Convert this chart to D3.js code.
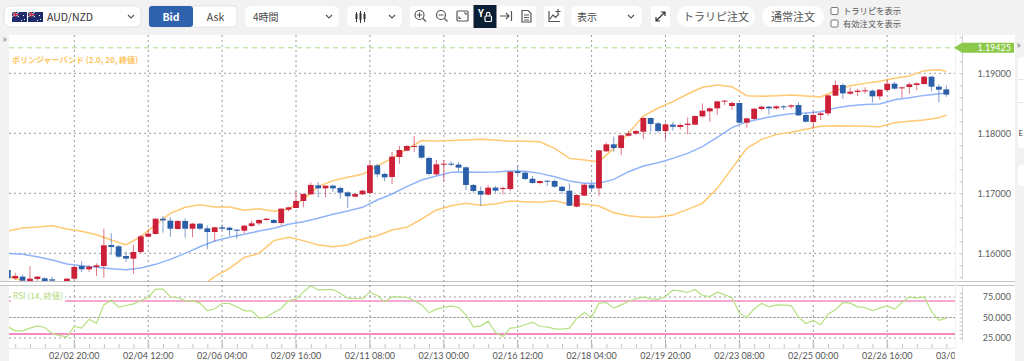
<!DOCTYPE html>
<html>
<head>
<meta charset="utf-8">
<script src="https://cdn.jsdelivr.net/npm/d3@7"></script>
<style>
    html, body { margin: 0; padding: 0; background: #f2f2f2; overflow: hidden; }
    text { font-family: Lato, "Noto Sans CJK JP", sans-serif; }
    .jp { font-family: "Noto Sans CJK JP", sans-serif; }
</style>
</head>
<body>
<div id="chart"></div>
<script>
"use strict"

// prices, one entry per 4 hour bar
let opens = [
    1.15722,1.15583,1.15611,1.15527,1.15572,1.15583,1.15566,1.15527,1.15527,1.15577,
    1.15788,1.15733,1.15772,1.15788,1.16138,1.16116,1.15955,1.15911,1.16022,1.16277,
    1.16322,1.16577,1.16544,1.16405,1.16538,1.16410,1.16494,1.16416,1.16355,1.16433,
    1.16427,1.16394,1.16377,1.16455,1.16499,1.16555,1.16555,1.16505,1.16727,1.16755,
    1.16872,1.16983,1.17133,1.17083,1.17127,1.17089,1.17016,1.16944,1.16983,1.17005,
    1.17466,1.17322,1.17272,1.17605,1.17711,1.17778,1.17794,1.17589,1.17316,1.17483,
    1.17494,1.17478,1.17433,1.17139,1.17039,1.16978,1.17094,1.17078,1.17071,1.17366,
    1.17344,1.17243,1.17171,1.17210,1.17205,1.17110,1.17043,1.16777,1.16960,1.17143,
    1.17082,1.17699,1.17816,1.17755,1.17960,1.17994,1.18027,1.18255,1.18166,1.18038,
    1.18144,1.18105,1.18138,1.18144,1.18282,1.18366,1.18416,1.18532,1.18455,1.18505,
    1.18177,1.18238,1.18405,1.18444,1.18416,1.18449,1.18444,1.18471,1.18305,1.18188,
    1.18305,1.18332,1.18627,1.18805,1.18660,1.18688,1.18699,1.18710,1.18616,1.18721,
    1.18827,1.18749,1.18771,1.18805,1.18821,1.18944,1.18777,1.18732
];
let highs = [
    1.15733,1.15677,1.15644,1.15788,1.15622,1.15599,1.15611,1.15527,1.15588,1.15788,
    1.15866,1.15799,1.15833,1.16410,1.16333,1.16138,1.16027,1.16138,1.16305,1.16399,
    1.16577,1.16622,1.16599,1.16555,1.16583,1.16505,1.16505,1.16466,1.16444,1.16477,
    1.16444,1.16399,1.16472,1.16544,1.16566,1.16583,1.16572,1.16750,1.16777,1.17044,
    1.17000,1.17178,1.17189,1.17133,1.17144,1.17111,1.17033,1.17000,1.17061,1.17528,
    1.17489,1.17344,1.17689,1.17789,1.17800,1.17955,1.17811,1.17611,1.17555,1.17555,
    1.17533,1.17522,1.17444,1.17155,1.17116,1.17139,1.17122,1.17111,1.17360,1.17466,
    1.17366,1.17288,1.17210,1.17216,1.17232,1.17121,1.17166,1.16988,1.17166,1.17166,
    1.17721,1.17844,1.17944,1.17977,1.18044,1.18055,1.18266,1.18266,1.18188,1.18177,
    1.18188,1.18166,1.18266,1.18299,1.18499,1.18432,1.18544,1.18555,1.18532,1.18510,
    1.18260,1.18421,1.18455,1.18455,1.18466,1.18471,1.18482,1.18516,1.18344,1.18355,
    1.18355,1.18644,1.18877,1.18832,1.18766,1.18744,1.18766,1.18732,1.18738,1.18899,
    1.18855,1.18777,1.18849,1.18849,1.18955,1.18949,1.18816,1.18799
];
let lows = [
    1.15555,1.15555,1.15522,1.15499,1.15544,1.15511,1.15511,1.15400,1.15499,1.15555,
    1.15688,1.15694,1.15622,1.15594,1.15972,1.15922,1.15855,1.15655,1.15999,1.16266,
    1.16311,1.16344,1.16277,1.16399,1.16260,1.16266,1.16388,1.16066,1.16194,1.16377,
    1.16288,1.16244,1.16333,1.16438,1.16472,1.16544,1.16500,1.16466,1.16700,1.16755,
    1.16766,1.16972,1.16933,1.16933,1.17022,1.16911,1.16755,1.16933,1.16972,1.16989,
    1.17266,1.17200,1.17155,1.17494,1.17700,1.17689,1.17578,1.17300,1.17300,1.17194,
    1.17455,1.17361,1.17055,1.17011,1.16794,1.16966,1.17011,1.16978,1.17038,1.17305,
    1.17221,1.17160,1.17149,1.17121,1.17093,1.16988,1.16788,1.16766,1.16955,1.17038,
    1.16955,1.17693,1.17693,1.17632,1.17944,1.17971,1.17905,1.18016,1.18010,1.17894,
    1.18044,1.18060,1.17982,1.18138,1.18266,1.18194,1.18310,1.18471,1.18388,1.18166,
    1.18094,1.18227,1.18382,1.18310,1.18394,1.18388,1.18410,1.18288,1.18182,1.18082,
    1.18221,1.18293,1.18621,1.18577,1.18644,1.18621,1.18660,1.18510,1.18560,1.18699,
    1.18732,1.18588,1.18660,1.18721,1.18816,1.18699,1.18516,1.18610
];
let closes = [
    1.15583,1.15622,1.15544,1.15577,1.15611,1.15527,1.15544,1.15450,1.15577,1.15772,
    1.15733,1.15777,1.15799,1.16133,1.16105,1.15944,1.15911,1.16022,1.16283,1.16327,
    1.16577,1.16549,1.16410,1.16538,1.16410,1.16494,1.16410,1.16355,1.16433,1.16410,
    1.16388,1.16377,1.16460,1.16499,1.16555,1.16577,1.16505,1.16744,1.16766,1.16872,
    1.16989,1.17139,1.17083,1.17127,1.17083,1.17011,1.16950,1.16989,1.17044,1.17466,
    1.17316,1.17266,1.17611,1.17722,1.17789,1.17789,1.17594,1.17322,1.17483,1.17494,
    1.17483,1.17428,1.17139,1.17039,1.16978,1.17094,1.17044,1.17089,1.17360,1.17338,
    1.17238,1.17171,1.17205,1.17199,1.17110,1.17038,1.16793,1.16971,1.17143,1.17082,
    1.17716,1.17816,1.17755,1.17966,1.17999,1.18038,1.18255,1.18155,1.18038,1.18149,
    1.18110,1.18138,1.18160,1.18288,1.18377,1.18416,1.18532,1.18544,1.18505,1.18177,
    1.18249,1.18410,1.18444,1.18416,1.18449,1.18438,1.18466,1.18299,1.18193,1.18305,
    1.18332,1.18632,1.18805,1.18666,1.18694,1.18710,1.18716,1.18616,1.18727,1.18827,
    1.18744,1.18766,1.18816,1.18832,1.18944,1.18777,1.18727,1.18644
];

// bollinger band readings, taken at these bars only
let bandBars = [
    0,2,4,6,8,10,12,14,16,18,20,22,24,26,28,30,32,34,36,38,40,42,44,46,48,50,52,54,56,58,60,62,64,
    66,68,70,72,74,76,78,80,82,84,86,88,90,92,94,96,98,100,102,104,106,108,110,112,114,116,118,120,122,124,126,127
];
let upperBand = [
    1.16372,1.16422,1.16438,1.16460,1.16405,1.16366,1.16310,1.16222,1.16138,1.16277,1.16477,1.16666,1.16766,1.16810,1.16772,1.16772,1.16716,1.16744,
    1.16700,1.16739,1.16900,1.17111,1.17211,1.17266,1.17316,1.17455,1.17583,1.17733,1.17878,1.17872,1.17878,1.17889,1.17900,1.17889,1.17866,
    1.17866,1.17860,1.17749,1.17582,1.17555,1.17527,1.17749,1.17999,1.18288,1.18421,1.18527,1.18655,1.18766,1.18805,1.18777,1.18627,
    1.18616,1.18627,1.18638,1.18621,1.18605,1.18710,1.18794,1.18832,1.18866,1.18916,1.18955,1.19044,1.19060,1.19032
];
let middleBand = [
    1.15999,1.15983,1.15944,1.15888,1.15822,1.15794,1.15766,1.15744,1.15727,1.15755,1.15816,1.15899,1.15999,1.16110,1.16205,1.16266,1.16316,1.16372,
    1.16416,1.16483,1.16527,1.16583,1.16650,1.16705,1.16766,1.16889,1.16989,1.17111,1.17222,1.17289,1.17350,1.17355,1.17350,1.17355,1.17372,
    1.17366,1.17332,1.17277,1.17205,1.17166,1.17166,1.17232,1.17360,1.17455,1.17510,1.17582,1.17666,1.17777,1.17932,1.18094,1.18194,
    1.18244,1.18293,1.18327,1.18338,1.18360,1.18421,1.18460,1.18482,1.18488,1.18560,1.18594,1.18632,1.18660,1.18666
];
let lowerBand = [
    1.15622,1.15544,1.15450,1.15316,1.15239,1.15222,1.15222,1.15266,1.15316,1.15233,1.15155,1.15132,1.15232,1.15444,1.15611,1.15749,1.15933,1.15999,
    1.16211,1.16266,1.16211,1.16139,1.16111,1.16139,1.16239,1.16294,1.16389,1.16433,1.16572,1.16722,1.16794,1.16833,1.16800,1.16822,1.16872,
    1.16860,1.16849,1.16877,1.16816,1.16821,1.16788,1.16677,1.16627,1.16599,1.16605,1.16638,1.16732,1.16832,1.17082,1.17416,1.17749,
    1.17899,1.17982,1.18016,1.18066,1.18116,1.18127,1.18121,1.18116,1.18110,1.18177,1.18199,1.18221,1.18260,1.18305
];

let rsiValues = [
    39.0,33.7,33.7,37.0,39.8,37.8,30.5,28.0,26.4,39.0,
    37.0,48.0,43.1,65.4,71.1,62.6,64.6,66.7,70.7,74.4,
    84.6,84.6,75.2,74.4,70.3,70.3,67.5,58.1,60.6,67.1,
    67.1,63.0,58.1,58.1,49.2,50.4,56.1,61.0,70.7,72.4,
    80.9,89.0,83.3,84.1,84.1,79.7,73.6,73.2,73.2,80.9,
    76.8,69.1,75.2,75.2,74.4,70.7,65.4,55.7,60.2,62.2,
    64.2,62.2,53.3,38.2,39.8,45.5,31.7,26.8,37.0,37.8,
    41.1,44.3,39.0,38.6,36.2,35.8,37.0,49.2,55.7,50.4,
    67.5,68.3,61.4,65.4,69.5,72.8,74.8,72.8,72.0,75.6,
    83.3,82.5,80.5,84.1,76.8,75.6,80.9,77.6,74.4,55.3,
    50.0,60.6,67.1,63.0,65.4,65.0,64.6,50.8,42.7,46.3,
    41.1,54.1,59.3,68.3,67.5,63.0,62.2,58.5,61.4,64.2,
    60.2,68.3,75.2,73.6,75.2,57.3,46.7,49.2
];

let timeBars = [9,19,29,39,49,59,69,79,89,99,109,119,129];
let timeLabels = ["02/02 20:00","02/04 12:00","02/06 04:00","02/09 16:00","02/11 08:00","02/13 00:00",
    "02/16 12:00","02/18 04:00","02/19 20:00","02/23 08:00","02/25 00:00","02/26 16:00","03/02 08:00"];
let priceTicks = [1.16,1.17,1.18,1.19];
let rsiTicks = [25,50,75];
let rsiBands = [30,70];
let currentPrice = 1.19425;

let App = function() {
    let self = { svg: null, x: null, y: null, yRsi: null };

    const upColor = "#cc2039", downColor = "#2c5fa9";
    const gridColor = "#9a9a9a";

    init();

    function init() {
        self.svg = d3.select("#chart").append("svg")
            .attr("width", 1024)
            .attr("height", 361)
            .style("display", "block");

        self.x = d3.scaleLinear().domain([0, 127]).range([7.8, 946.3]);
        self.y = d3.scaleLinear().domain([1.16, 1.19]).range([253.3, 73.3]);
        self.yRsi = d3.scaleLinear().domain([25, 75]).range([338, 297]);

        let defs = self.svg.append("defs");
        defs.append("clipPath").attr("id", "mainClip").append("rect")
            .attr("x", 9).attr("y", 35).attr("width", 946).attr("height", 246);
        defs.append("clipPath").attr("id", "rsiClip").append("rect")
            .attr("x", 9).attr("y", 286).attr("width", 946).attr("height", 62);
        defs.append("clipPath").attr("id", "timeClip").append("rect")
            .attr("x", 0).attr("y", 340).attr("width", 955).attr("height", 21);

        drawPanels();
        drawGrid();
        drawBands();
        drawCandles();
        drawRsi();
        drawAxes();
        drawCurrentPrice();
        drawLegends();
        drawToolbar();
    }

    function drawPanels() {
        self.svg.append("rect").attr("x", 9).attr("y", 35).attr("width", 1006).attr("height", 326).style("fill", "#fff");
        // separator between price and rsi panes
        self.svg.append("rect").attr("x", 0).attr("y", 281).attr("width", 1015).attr("height", 5).style("fill", "#fff");
        [281.5, 285.5].forEach(function(yy) {
            self.svg.append("line").attr("x1", 0).attr("x2", 1015).attr("y1", yy).attr("y2", yy)
                .style("stroke", "#c4c4c4").style("stroke-width", 1);
        });
        // cards on the right edge
        self.svg.append("rect").attr("x", 1018).attr("y", 57).attr("width", 12).attr("height", 91).attr("rx", 4).style("fill", "#fff");
        self.svg.append("rect").attr("x", 1018).attr("y", 165).attr("width", 12).attr("height", 21).attr("rx", 4).style("fill", "#fff");
        [79.5, 102.5].forEach(function(yy) {
            self.svg.append("line").attr("x1", 1018).attr("x2", 1024).attr("y1", yy).attr("y2", yy).style("stroke", "#e6e6e6");
        });
        self.svg.append("text").attr("x", 1018.5).attr("y", 136).style("font-size", "8px").style("fill", "#444").text("E");
        self.svg.append("text").attr("x", 2.5).attr("y", 42).style("font-size", "10px").style("fill", "#777").text("»");
        self.svg.append("text").attr("x", 1016.5).attr("y", 48).style("font-size", "10px").style("fill", "#777").text("»");
    }

    function drawGrid() {
        let g = self.svg.append("g").attr("class", "grid");
        g.selectAll(".vgrid").data(timeBars.slice(0, 12)).enter().append("line")
            .attr("x1", d => self.x(d)).attr("x2", d => self.x(d))
            .attr("y1", 35).attr("y2", 342)
            .style("stroke", gridColor).style("stroke-width", 1).style("stroke-dasharray", "2,3");
        g.selectAll(".hgrid").data(priceTicks).enter().append("line")
            .attr("x1", 9).attr("x2", 955)
            .attr("y1", d => self.y(d)).attr("y2", d => self.y(d))
            .style("stroke", gridColor).style("stroke-width", 1).style("stroke-dasharray", "2,3");
    }

    function drawBands() {
        let g = self.svg.append("g").attr("clip-path", "url(#mainClip)");
        let line = d3.line()
            .x(function(d, i) { return self.x(bandBars[i]); })
            .y(function(d) { return self.y(d); });

        g.append("path").attr("d", line(upperBand)).style("fill", "none").style("stroke", "#ffc871").style("stroke-width", 1.5);
        g.append("path").attr("d", line(lowerBand)).style("fill", "none").style("stroke", "#ffc871").style("stroke-width", 1.5);
        g.append("path").attr("d", line(middleBand)).style("fill", "none").style("stroke", "#8fb4fb").style("stroke-width", 1.5);
    }

    function drawCandles() {
        let g = self.svg.append("g").attr("clip-path", "url(#mainClip)");
        let bars = d3.range(opens.length);

        g.selectAll(".wick").data(bars).enter().append("line")
            .attr("class", "wick")
            .attr("x1", d => self.x(d)).attr("x2", d => self.x(d))
            .attr("y1", d => self.y(highs[d])).attr("y2", d => self.y(lows[d]))
            .style("stroke", d => closes[d] >= opens[d] ? upColor : downColor)
            .style("stroke-width", 1)
            .style("opacity", 0.6);

        g.selectAll(".body").data(bars).enter().append("rect")
            .attr("class", "body")
            .attr("x", d => self.x(d) - 2.9)
            .attr("width", 5.8)
            .attr("y", d => self.y(Math.max(opens[d], closes[d])))
            .attr("height", d => Math.max(1, Math.abs(self.y(opens[d]) - self.y(closes[d]))))
            .style("fill", d => closes[d] >= opens[d] ? upColor : downColor);
    }

    function drawRsi() {
        let g = self.svg.append("g").attr("clip-path", "url(#rsiClip)");

        g.selectAll(".rsiDotted").data([25, 75]).enter().append("line")
            .attr("x1", 9).attr("x2", 955)
            .attr("y1", d => self.yRsi(d)).attr("y2", d => self.yRsi(d))
            .style("stroke", gridColor).style("stroke-dasharray", "2,3");
        g.append("line")
            .attr("x1", 9).attr("x2", 955)
            .attr("y1", self.yRsi(50)).attr("y2", self.yRsi(50))
            .style("stroke", "#a5a5a5").style("stroke-dasharray", "3,1");
        g.selectAll(".rsiBand").data(rsiBands).enter().append("line")
            .attr("x1", 9).attr("x2", 955)
            .attr("y1", d => self.yRsi(d)).attr("y2", d => self.yRsi(d))
            .style("stroke", "#f58cc2").style("stroke-width", d => d == 30 ? 2 : 1.5);

        let line = d3.line()
            .x(function(d, i) { return self.x(i); })
            .y(function(d) { return self.yRsi(d); });
        g.append("path").attr("d", line(rsiValues)).style("fill", "none").style("stroke", "#b3e07f").style("stroke-width", 1.2);
    }

    function drawAxes() {
        // price axis, minor ticks every 0.002
        let minor = d3.range(1.156, 1.1961, 0.002).filter(d => self.y(d) < 279 && self.y(d) > 35);
        let priceAxis = d3.axisLeft(self.y).tickValues(minor).tickSize(3).tickFormat("");
        let gp = self.svg.append("g").attr("transform", "translate(962.5,0)").call(priceAxis);
        gp.select(".domain").remove();
        gp.selectAll("line").style("stroke", "#c4c4c4");
        self.svg.append("line").attr("x1", 962.5).attr("x2", 962.5).attr("y1", 35).attr("y2", 279).style("stroke", "#cfcfcf");

        self.svg.selectAll(".priceLabel").data(priceTicks).enter().append("text")
            .attr("x", 1011).attr("y", d => self.y(d) + 3.2)
            .attr("text-anchor", "end")
            .style("font-size", "9px").style("fill", "#5c5c5c")
            .text(d => d.toFixed(5));

        // rsi axis, every 5
        let minorRsi = d3.range(20, 85, 5).filter(d => self.yRsi(d) < 341 && self.yRsi(d) > 286);
        let rsiAxis = d3.axisLeft(self.yRsi).tickValues(minorRsi).tickSize(3).tickFormat("");
        let gr = self.svg.append("g").attr("transform", "translate(962.5,0)").call(rsiAxis);
        gr.select(".domain").remove();
        gr.selectAll("line").style("stroke", "#c4c4c4");
        self.svg.append("line").attr("x1", 962.5).attr("x2", 962.5).attr("y1", 287).attr("y2", 341).style("stroke", "#cfcfcf");
        self.svg.append("line").attr("x1", 955.5).attr("x2", 955.5).attr("y1", 35).attr("y2", 348).style("stroke", "#f0f0f0");

        self.svg.selectAll(".rsiLabel").data(rsiTicks).enter().append("text")
            .attr("x", 1011).attr("y", d => self.yRsi(d) + 3.2)
            .attr("text-anchor", "end")
            .style("font-size", "9px").style("fill", "#5c5c5c")
            .text(d => d.toFixed(3));

        // time axis
        let gt = self.svg.append("g").attr("clip-path", "url(#timeClip)");
        let oddBars = d3.range(1, 128, 2);
        let timeAxis = d3.axisBottom(self.x).tickValues(oddBars).tickSize(4).tickFormat("");
        let ga = gt.append("g").attr("transform", "translate(0,344)").call(timeAxis);
        ga.select(".domain").remove();
        ga.selectAll("line").style("stroke", "#c4c4c4");
        gt.append("line").attr("x1", 9).attr("x2", 955).attr("y1", 348.5).attr("y2", 348.5).style("stroke", "#e6e6e6");
        gt.selectAll(".majorTick").data(timeBars).enter().append("line")
            .attr("x1", d => self.x(d)).attr("x2", d => self.x(d))
            .attr("y1", 342).attr("y2", 348)
            .style("stroke", "#b5b5b5");
        gt.selectAll(".timeLabel").data(timeBars).enter().append("text")
            .attr("x", d => self.x(d)).attr("y", 358.5)
            .attr("text-anchor", "middle")
            .style("font-size", "9px").style("fill", "#555")
            .text((d, i) => timeLabels[i]);
    }

    function drawCurrentPrice() {
        let yy = self.y(currentPrice);
        self.svg.append("line")
            .attr("x1", 9).attr("x2", 955).attr("y1", yy).attr("y2", yy)
            .style("stroke", "#aadf7c").style("stroke-width", 1).style("stroke-dasharray", "5,4");
        let pts = [[954, yy], [962, yy - 5], [1014, yy - 5], [1014, yy + 5], [962, yy + 5]];
        self.svg.append("polygon")
            .attr("points", pts.map(p => p.join(",")).join(" "))
            .style("fill", "#8cc94a");
        self.svg.append("text")
            .attr("x", 1011).attr("y", yy + 3.2)
            .attr("text-anchor", "end")
            .style("font-size", "9px").style("fill", "#fff")
            .text(currentPrice.toFixed(5));
    }

    function drawLegends() {
        self.svg.append("text").attr("class", "jp")
            .attr("x", 12).attr("y", 62.5)
            .style("font-size", "8px").style("font-weight", "bold").style("fill", "#ffc35c")
            .text("ボリンジャーバンド (2.0, 20, 終値)");
        self.svg.append("rect").attr("x", 11).attr("y", 289).attr("width", 54).attr("height", 14).style("fill", "#fff");
        self.svg.append("text").attr("class", "jp")
            .attr("x", 13).attr("y", 299)
            .style("font-size", "8.3px").style("fill", "#b3d97c")
            .text("RSI (14, 終値)");
    }

    function box(x, y, w, h, fill, r) {
        return self.svg.append("rect").attr("x", x).attr("y", y).attr("width", w).attr("height", h)
            .attr("rx", r).style("fill", fill);
    }

    function label(x, y, txt, size, fill, anchor, weight) {
        return self.svg.append("text").attr("class", "jp")
            .attr("x", x).attr("y", y)
            .attr("text-anchor", anchor || "start")
            .style("font-size", size + "px")
            .style("fill", fill)
            .style("font-weight", weight || "normal")
            .text(txt);
    }

    function chevron(x, y) {
        self.svg.append("path")
            .attr("d", "M" + (x - 3) + "," + (y - 1.5) + " L" + x + "," + (y + 1.5) + " L" + (x + 3) + "," + (y - 1.5))
            .style("fill", "none").style("stroke", "#555").style("stroke-width", 1.1);
    }

    function icon(d, color) {
        return self.svg.append("path").attr("d", d)
            .style("fill", "none").style("stroke", color || "#555").style("stroke-width", 1.2);
    }

    function flag(x) {
        box(x, 12, 15, 10, "#1f2d6e", 0);
        self.svg.append("path").attr("d", "M" + x + ",12 L" + (x + 7) + ",17 M" + (x + 7) + ",12 L" + x + ",17")
            .style("stroke", "#ddd").style("stroke-width", 1);
        self.svg.append("path").attr("d", "M" + (x + 3.5) + ",12 V17 M" + x + ",14.5 H" + (x + 7))
            .style("stroke", "#d6273b").style("stroke-width", 1.2);
        [[11, 15], [12, 19], [9, 20]].forEach(function(p) {
            box(x + p[0], p[1], 1, 1, "#fff", 0);
        });
    }

    function drawToolbar() {
        box(4, 6, 137, 21, "#fff", 6).style("stroke", "#e2e2e2");
        flag(12);
        flag(28);
        label(47, 20.5, "AUD/NZD", 10.5, "#333");
        chevron(131, 16.5);

        box(149, 6, 88, 21, "#fff", 3).style("stroke", "#e2e2e2");
        box(149, 6, 44, 21, "#2f62ad", 3);
        label(171, 20.5, "Bid", 10.5, "#fff", "middle", "bold");
        label(215.5, 20.5, "Ask", 10.5, "#444", "middle");

        box(245, 6, 94, 21, "#fff", 6);
        label(253, 20.5, "4時間", 10, "#444");
        chevron(329, 16.5);

        box(347, 6, 55, 21, "#fff", 6);
        [[356.5, 14, 19, 12, 22], [360.5, 13, 20, 11, 23], [364.5, 14, 19, 12, 22]].forEach(function(c) {
            icon("M" + c[0] + "," + c[3] + " V" + c[4], "#333").style("stroke-width", 1);
            box(c[0] - 1, c[1], 2, c[2] - c[1], "#333", 0);
        });
        chevron(392, 16.5);

        box(410, 6, 126, 21, "#fff", 2);
        // zoom in, zoom out, fit
        icon("M424,15 a4.5,4.5 0 1 1 -9,0 a4.5,4.5 0 1 1 9,0 M423,18.5 L426,21.5 M417,15 H422 M419.5,12.5 V17.5");
        icon("M445.5,15 a4.5,4.5 0 1 1 -9,0 a4.5,4.5 0 1 1 9,0 M444.5,18.5 L447.5,21.5 M438.5,15 H443.5");
        self.svg.append("rect").attr("x", 457).attr("y", 11).attr("width", 11).attr("height", 10).attr("rx", 1)
            .style("fill", "none").style("stroke", "#555").style("stroke-width", 1.2);
        icon("M459,18.5 L461,18.5 M459,18.5 L459,16.5 M466,13 L464,13 M466,13 L466,15");
        // y lock
        box(473.5, 5, 23, 23, "#0a1f33", 0);
        label(478, 17, "Y", 10, "#fff", "start", "bold");
        self.svg.append("rect").attr("x", 485).attr("y", 16).attr("width", 6.5).attr("height", 5.5).attr("rx", 1)
            .style("fill", "none").style("stroke", "#fff").style("stroke-width", 1.2);
        icon("M486.5,16 V14 a1.7,1.7 0 0 1 3.4,0 V16", "#fff");
        // jump to end
        icon("M500,16 H509 M506,13 L509,16 L506,19 M511.5,11 V21");
        // note
        icon("M522,10.5 H528 L531,13.5 V22 H522 Z M524,15 H529 M524,17.5 H529 M524,20 H529");

        box(544, 6, 20, 21, "#fff", 2);
        icon("M549,11 V21.5 H560 M550,19 L553,15 L555.5,17.5 L559,14 M558,9 V14 M555.5,11.5 H560.5");

        box(571, 6, 71, 21, "#fff", 6);
        label(577, 20.5, "表示", 10, "#444");
        chevron(631, 16.5);

        box(651, 6, 19, 21, "#fff", 2);
        icon("M656.5,20.5 L664.5,12.5 M661,12 H665 V16 M656,17 V21 H660", "#333");

        box(677, 6, 78, 21, "#fff", 10.5);
        label(716, 21, "トラリピ注文", 11, "#555", "middle");
        box(762, 6, 62, 21, "#fff", 10.5);
        label(793, 21, "通常注文", 11, "#555", "middle");

        [7.5, 20].forEach(function(yy) {
            self.svg.append("rect").attr("x", 831).attr("y", yy).attr("width", 7).attr("height", 7)
                .attr("rx", 1).style("fill", "#fff").style("stroke", "#777");
        });
        label(843, 14, "トラリピを表示", 8.3, "#555");
        label(843, 26.5, "有効注文を表示", 8.3, "#555");
    }

    return self;
}();
</script>
</body>
</html>
